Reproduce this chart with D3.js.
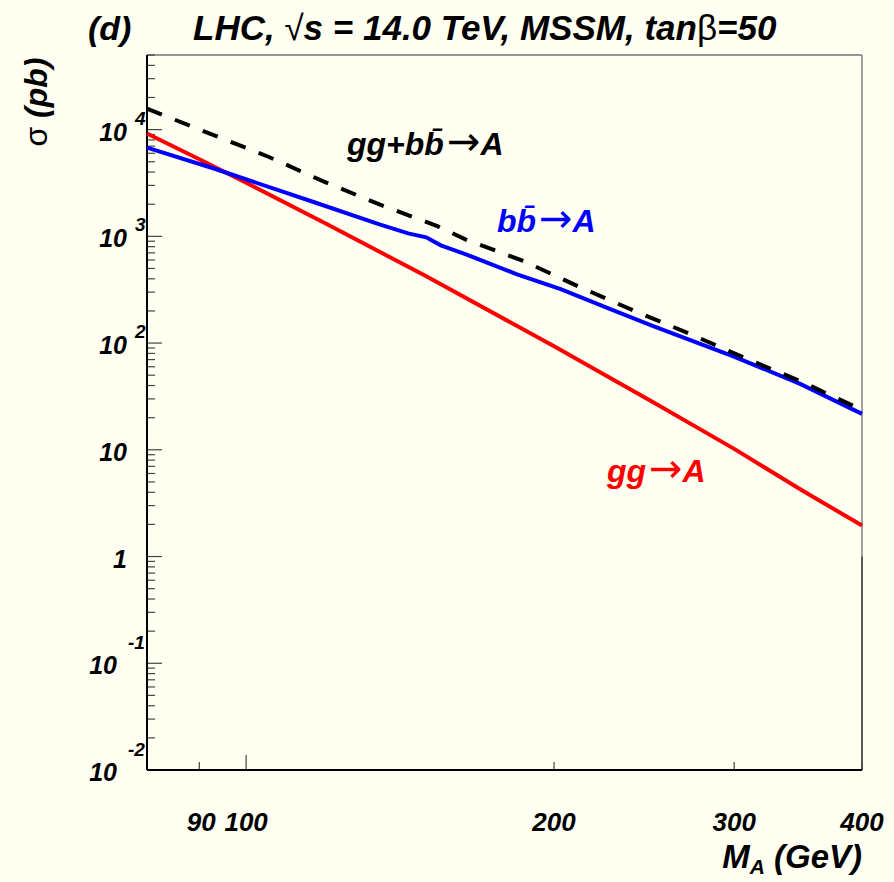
<!DOCTYPE html>
<html>
<head>
<meta charset="utf-8">
<script src="https://cdn.jsdelivr.net/npm/d3@7"></script>
<style>
  body { margin: 0; background: #fffff2; }
  text { font-family: "Liberation Sans", Arial, sans-serif; font-weight: bold; font-style: italic; }
</style>
</head>
<body>
<script>
// gg -> A (red)
const massGG = [80, 90, 100, 120, 150, 200, 250, 300, 350, 400]
const sigmaGG = [9180, 5270, 3180, 1300, 422, 93.5, 27.9, 10.2, 4.14, 1.95]

// b bbar -> A (blue)
const massBB = [80, 93, 116, 135, 144, 150, 155, 164, 184, 203, 227, 250, 299, 348, 400]
const sigmaBB = [6790, 4320, 2120, 1295, 1067, 979, 824, 679, 441, 320, 208, 144, 75.6, 41.4, 21.7]

// gg + b bbar -> A (black dashed)
const massSum = [80, 92, 105, 119, 135, 145, 154, 164, 187, 211, 240, 272, 309, 350, 400]
const sigmaSum = [15700, 9230, 5600, 3270, 1990, 1540, 1240, 931, 584, 341, 199, 121, 70.9, 43, 23.6]

const xTickVals = [90, 100, 200, 300, 400]
const xTickLabels = ['90', '100', '200', '300', '400']
const yLabelVals = [1e-2, 1e-1, 1, 10, 1e2, 1e3, 1e4]
const yLabelBase = ['10', '10', '1', '10', '10', '10', '10']
const yLabelExp = ['-2', '-1', '', '', '2', '3', '4']

const W = 894, H = 882
const pLeft = 147, pRight = 862, pTop = 55, pBottom = 770

const svg = d3.select('body')
  .append('svg')
  .attr('width', W)
  .attr('height', H)

svg.append('rect')
  .attr('width', W)
  .attr('height', H)
  .attr('fill', '#fffff2')

const xScale = d3.scaleLog()
  .domain([80, 400])
  .range([pLeft, pRight])

const yScale = d3.scaleLog()
  .domain([1e-2, 5e4])
  .range([pBottom, pTop])

const line = d3.line()
  .x(d => xScale(d[0]))
  .y(d => yScale(d[1]))

// frame
svg.append('line')
  .attr('x1', pLeft).attr('x2', pRight)
  .attr('y1', pTop).attr('y2', pTop)
  .attr('stroke', '#333').attr('stroke-width', 1.2)
svg.append('line')
  .attr('x1', pRight).attr('x2', pRight)
  .attr('y1', pTop).attr('y2', yScale(1))
  .attr('stroke', '#808080').attr('stroke-width', 1.5)
svg.append('line')
  .attr('x1', pRight).attr('x2', pRight)
  .attr('y1', yScale(1)).attr('y2', pBottom)
  .attr('stroke', '#222').attr('stroke-width', 1.5)

// y ticks
const isDecade = v => Math.abs(Math.log10(v) - Math.round(Math.log10(v))) < 1e-6
const yTicks = yScale.ticks().filter(v => v <= 5e4)
svg.append('g')
  .selectAll('line')
  .data(yTicks)
  .enter()
  .append('line')
  .attr('x1', pLeft)
  .attr('x2', d => isDecade(d) ? pLeft + 15 : pLeft + 8)
  .attr('y1', d => yScale(d))
  .attr('y2', d => yScale(d))
  .attr('stroke', '#444')
  .attr('stroke-width', 1.2)

// x ticks
svg.append('g')
  .selectAll('line')
  .data(xTickVals)
  .enter()
  .append('line')
  .attr('x1', d => xScale(d))
  .attr('x2', d => xScale(d))
  .attr('y1', pBottom)
  .attr('y2', d => isDecade(d) ? pBottom - 15 : pBottom - 8)
  .attr('stroke', '#444')
  .attr('stroke-width', 1.2)

// axes lines
svg.append('line')
  .attr('x1', pLeft).attr('x2', pLeft)
  .attr('y1', pTop).attr('y2', pBottom)
  .attr('stroke', '#000').attr('stroke-width', 2)
svg.append('line')
  .attr('x1', pLeft).attr('x2', pRight)
  .attr('y1', pBottom).attr('y2', pBottom)
  .attr('stroke', '#000').attr('stroke-width', 2)

// curves
const plot = svg.append('g')
plot.append('path')
  .datum(massGG.map((m, i) => [m, sigmaGG[i]]))
  .attr('d', line)
  .attr('fill', 'none')
  .attr('stroke', '#ff0000')
  .attr('stroke-width', 4)
plot.append('path')
  .datum(massBB.map((m, i) => [m, sigmaBB[i]]))
  .attr('d', line)
  .attr('fill', 'none')
  .attr('stroke', '#0000ff')
  .attr('stroke-width', 4)
plot.append('path')
  .datum(massSum.map((m, i) => [m, sigmaSum[i]]))
  .attr('d', line)
  .attr('fill', 'none')
  .attr('stroke', '#000')
  .attr('stroke-width', 4)
  .attr('stroke-dasharray', '16,14')

// y tick labels
const yl = svg.append('g')
yLabelVals.forEach((v, i) => {
  const y = yScale(v)
  const neg = yLabelExp[i].startsWith('-')
  yl.append('text')
    .attr('x', neg ? 117 : 127)
    .attr('y', y + 11)
    .attr('text-anchor', 'end')
    .attr('font-size', 25)
    .text(yLabelBase[i])
  if (yLabelExp[i]) {
    yl.append('text')
      .attr('x', neg ? 128 : 135)
      .attr('y', neg ? y - 14 : y - 5)
      .attr('font-size', 19)
      .text(yLabelExp[i])
  }
})

// x tick labels
svg.append('g')
  .selectAll('text')
  .data(xTickVals)
  .enter()
  .append('text')
  .attr('x', d => xScale(d) + (d === 90 ? 2 : 0))
  .attr('y', 831)
  .attr('text-anchor', 'middle')
  .attr('font-size', 26)
  .text((d, i) => xTickLabels[i])

// axis titles
const xt = svg.append('text')
  .attr('x', 862)
  .attr('y', 868)
  .attr('text-anchor', 'end')
  .attr('font-size', 33)
xt.append('tspan').text('M')
xt.append('tspan').attr('dy', 6).attr('font-size', 21).text('A')
xt.append('tspan').attr('dy', -6).text(' (GeV)')

const yt = svg.append('text')
  .attr('transform', 'translate(47,102) rotate(-90)')
  .attr('text-anchor', 'middle')
  .attr('font-size', 32)
yt.append('tspan').attr('font-weight', 'normal').attr('font-style', 'normal').text('σ')
yt.append('tspan').text(' (pb)')

// title
svg.append('text')
  .attr('x', 88)
  .attr('y', 40)
  .attr('font-size', 34)
  .text('(d)')
const tt = svg.append('text')
  .attr('x', 193)
  .attr('y', 40)
  .attr('font-size', 35)
tt.append('tspan').text('LHC, ')
tt.append('tspan').attr('font-weight', 'normal').attr('font-style', 'normal').text('√')
tt.append('tspan').text('s = 14.0 TeV, MSSM, tan')
tt.append('tspan').attr('font-weight', 'normal').attr('font-style', 'normal').text('β')
tt.append('tspan').text('=50')

// curve labels
const lab = (x, y, color, parts) => {
  const t = svg.append('text')
    .attr('x', x).attr('y', y)
    .attr('font-size', 32)
    .attr('fill', color)
  parts.forEach(p => {
    const s = t.append('tspan').text(p[0])
    if (p[1]) {
      s.attr('font-weight', 'normal').attr('font-style', 'normal')
        .attr('dx', 3)
        .style('font-family', '"DejaVu Sans", sans-serif')
        .attr('font-size', 40)
    }
  })
  return t
}
lab(347, 155, '#000', [['gg+b'], ['b\u0304'], ['\u2192', true], ['A']])
lab(497, 232, '#0000ff', [['b'], ['b\u0304'], ['\u2192', true], ['A']])
lab(607, 482, '#ff0000', [['gg'], ['\u2192', true], ['A']])
</script>
</body>
</html>
